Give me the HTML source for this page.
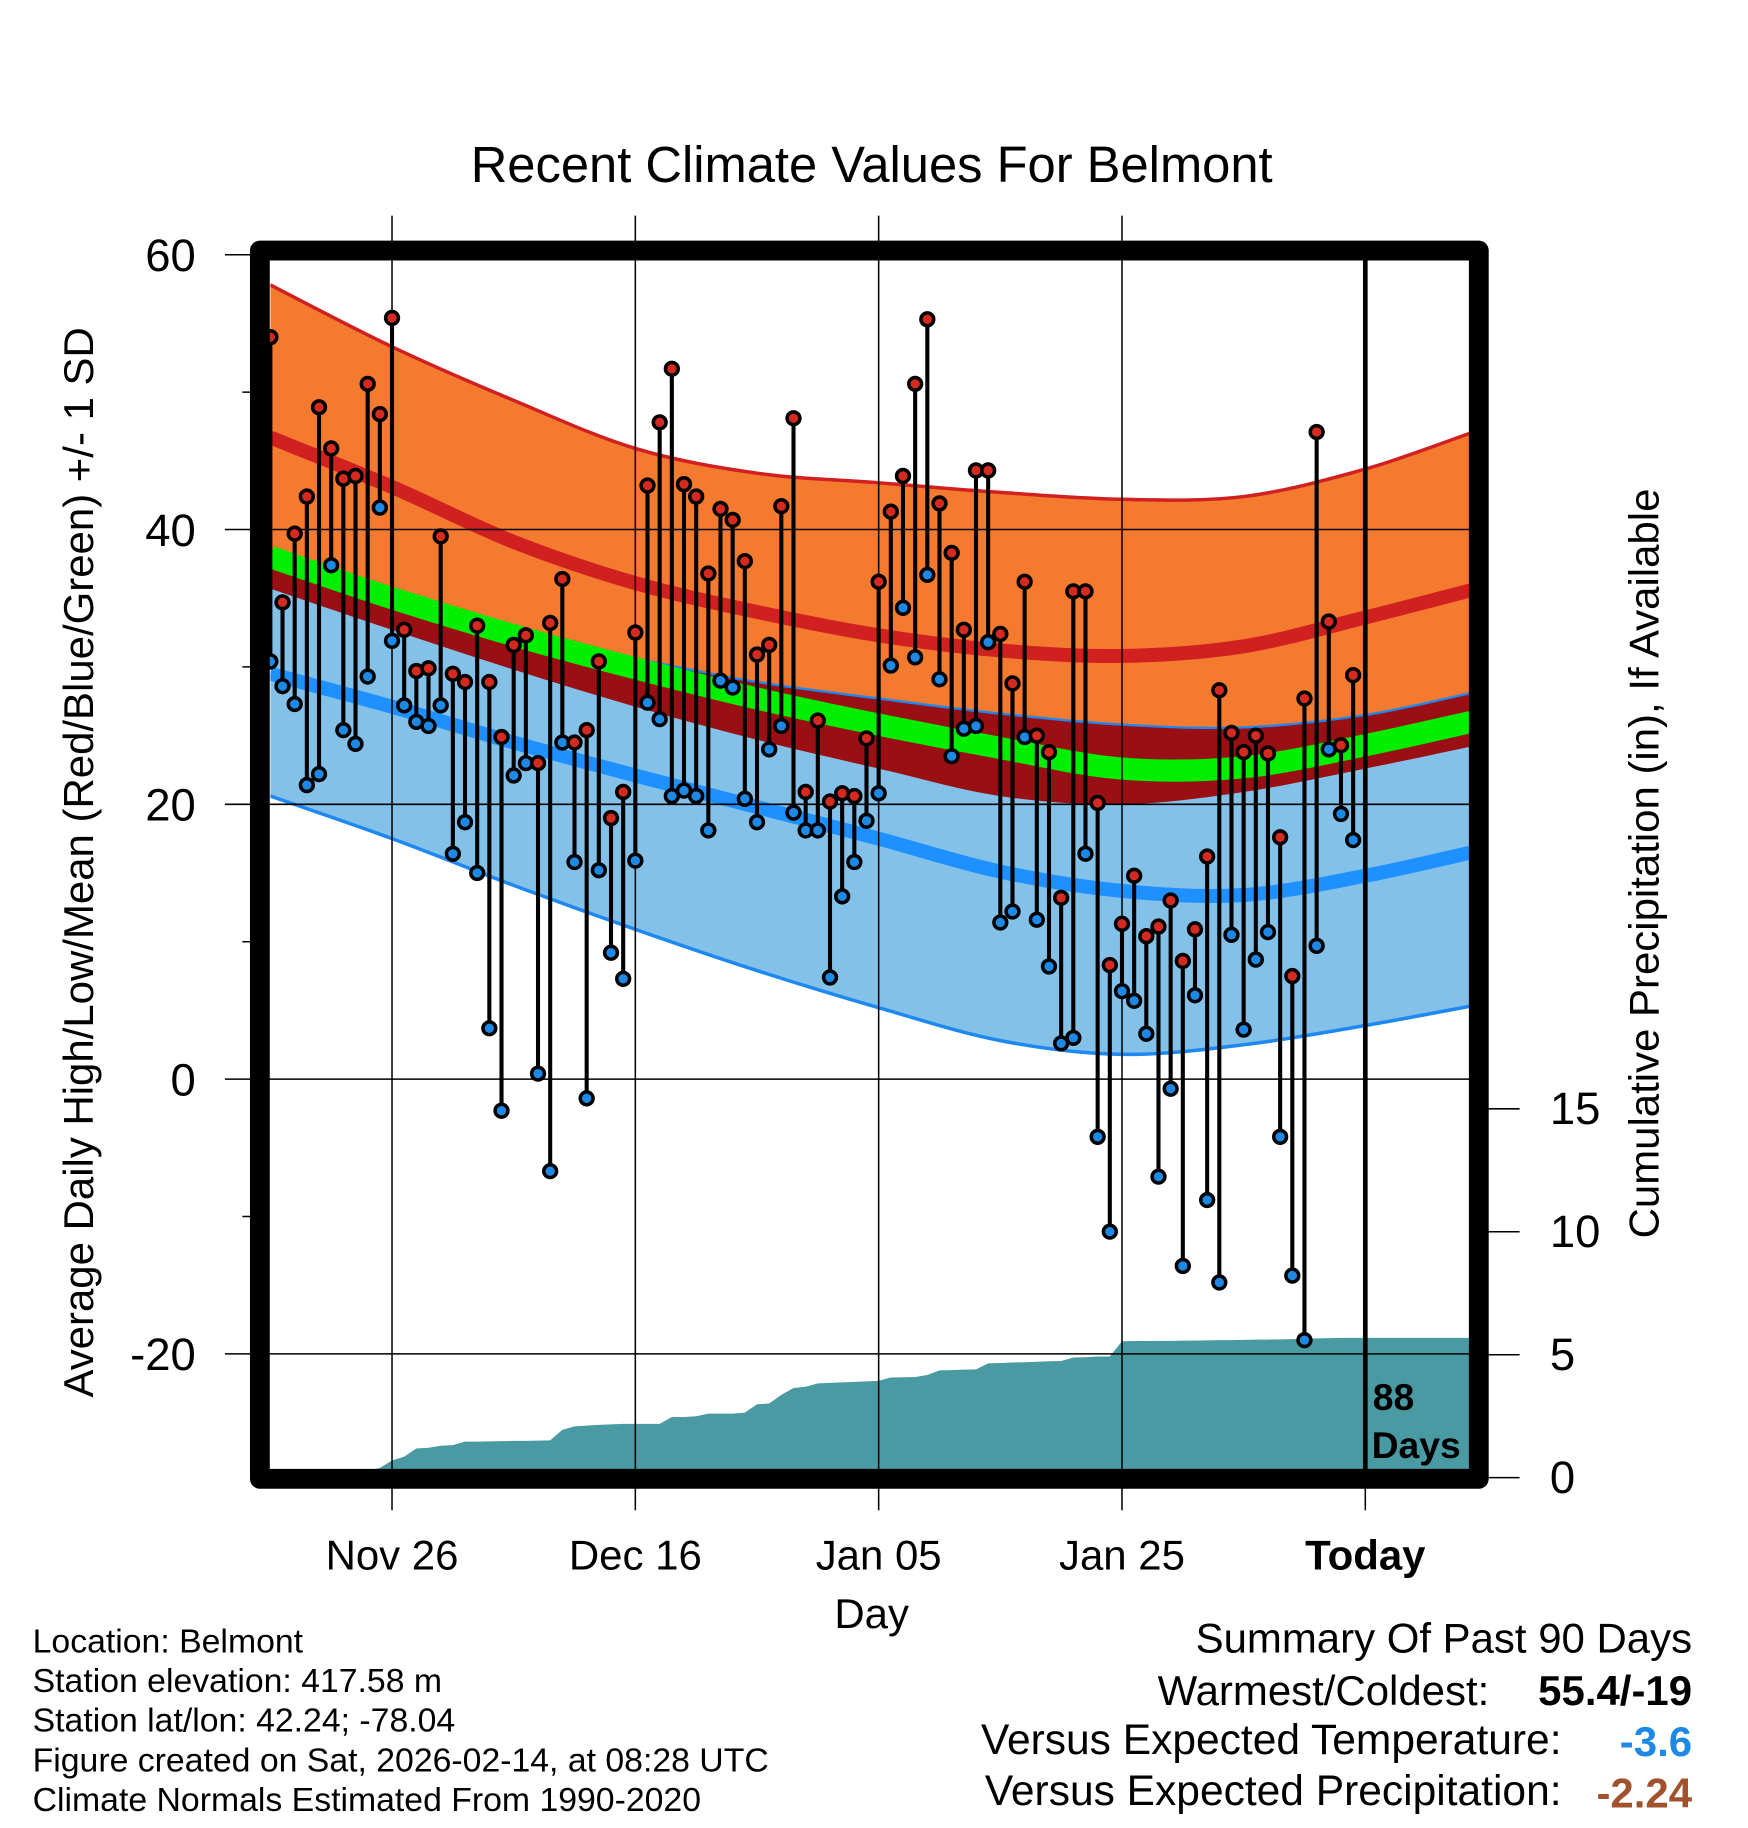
<!DOCTYPE html>
<html><head><meta charset="utf-8"><style>
html,body{margin:0;padding:0;background:#fff}
svg{display:block}
text{font-family:"Liberation Sans",sans-serif}
</style></head><body>
<svg id="chart" width="1748" height="1828" viewBox="0 0 1500 1568.65" xmlns="http://www.w3.org/2000/svg">
<rect width="1500" height="1569" fill="#fff"/>
<g id="bands"></g>
<g id="grid"></g>
<g id="marks"></g>
<g id="frame"></g>
<g id="labels"></g>
</svg>
<script>
// ---- data ----
var normDays = [0,10,20,30,40,50,60,70,80,90,99.2];
var highUpper = [57.8,53.3,49.4,45.9,44.1,43.4,42.7,42.2,42.4,44.4,47.2];
var normHigh  = [46.7,43.1,39.1,36.1,34.0,32.3,31.2,30.8,31.5,33.6,35.7];
var highLower = [35.7,32.7,29.8,27.1,24.7,22.6,20.6,20.0,20.9,22.6,24.3];
var lowUpper  = [37.8,34.3,32.3,30.6,28.9,27.7,26.6,25.8,25.6,26.5,28.2];
var normMean  = [38.0,35.0,32.3,29.9,27.7,25.8,24.1,22.6,22.7,24.3,26.1];
var normLow   = [29.5,27.1,24.5,22.1,19.8,17.5,15.1,13.7,13.4,14.8,16.6];
var lowLower  = [20.6,17.5,14.1,10.9,7.9,5.2,2.8,1.8,2.5,3.9,5.4];
var highs = [54.0,34.7,39.7,42.4,48.9,45.9,43.7,43.9,50.6,48.4,55.4,32.7,29.7,29.9,39.5,29.5,28.9,33.0,28.9,24.9,31.6,32.3,23.0,33.2,36.4,24.5,25.4,30.4,19.0,20.9,32.5,43.2,47.8,51.7,43.3,42.4,36.8,41.5,40.7,37.7,30.9,31.6,41.7,48.1,20.9,26.1,20.2,20.8,20.6,24.8,36.2,41.3,43.9,50.6,55.3,41.9,38.3,32.7,44.3,44.3,32.4,28.8,36.2,25.0,23.8,13.2,35.5,35.5,20.1,8.3,11.3,14.8,10.4,11.1,13.0,8.6,10.9,16.2,28.3,25.2,23.8,25.0,23.7,17.6,7.5,27.7,47.1,33.3,24.3,29.4];
var lows = [30.4,28.6,27.3,21.4,22.2,37.4,25.4,24.4,29.3,41.6,31.9,27.2,26.0,25.7,27.2,16.4,18.7,15.0,3.7,-2.3,22.1,23.0,0.4,-6.7,24.5,15.8,-1.4,15.2,9.2,7.3,15.9,27.4,26.2,20.6,21.0,20.6,18.1,29.0,28.5,20.4,18.7,24.0,25.7,19.4,18.1,18.1,7.4,13.3,15.8,18.8,20.8,30.1,34.3,30.7,36.7,29.1,23.5,25.5,25.7,31.8,11.4,12.2,24.9,11.6,8.2,2.6,3.0,16.4,-4.2,-11.1,6.4,5.7,3.3,-7.1,-0.7,-13.6,6.1,-8.8,-14.8,10.5,3.6,8.7,10.7,-4.2,-14.3,-19.0,9.7,24.0,19.3,17.4];
var precipCum = [0,0,0,0,0,0,0,0,0,0.3,0.6,0.76,1.09,1.12,1.2,1.23,1.37,1.37,1.38,1.39,1.4,1.4,1.41,1.42,1.85,1.99,2.02,2.05,2.07,2.09,2.09,2.09,2.09,2.37,2.37,2.4,2.51,2.51,2.51,2.55,2.89,2.92,3.27,3.55,3.6,3.74,3.76,3.78,3.8,3.82,3.84,3.98,3.99,4.0,4.08,4.27,4.28,4.3,4.31,4.55,4.57,4.59,4.6,4.62,4.64,4.65,4.79,4.8,4.83,4.83,5.45,5.46,5.46,5.47,5.47,5.48,5.48,5.49,5.5,5.5,5.51,5.52,5.52,5.53,5.54,5.55,5.57,5.58,5.59,5.59];
var yTicks = [60,40,20,0,-20];
var yMinor = [50,30,10,-10];
var pTicks = [0,5,10,15];
var xTickDays = [10,30,50,70,90];
var xTickLabels = ["Nov 26","Dec 16","Jan 05","Jan 25","Today"];
var infoLines = ["Location: Belmont","Station elevation: 417.58 m","Station lat/lon: 42.24; -78.04","Figure created on Sat, 2026-02-14, at 08:28 UTC","Climate Normals Estimated From 1990-2020"];

// ---- axes ----
var X0=232, XD=10.44;
function xs(d){return X0+XD*d;}
function ys(v){return 926-11.79*v;}
function yp(p){return 1266-21.1*p;}
var NS="http://www.w3.org/2000/svg";
function mk(tag,parent,attrs){var e=document.createElementNS(NS,tag);for(var k in attrs)e.setAttribute(k,attrs[k]);parent.appendChild(e);return e;}
function pts(arr){return arr.map(function(v,i){return [xs(normDays[i]),ys(v)];});}
function smooth(p){var d="M"+p[0][0]+","+p[0][1];for(var i=0;i<p.length-1;i++){var p0=p[Math.max(i-1,0)],p1=p[i],p2=p[i+1],p3=p[Math.min(i+2,p.length-1)];
 d+=" C"+(p1[0]+(p2[0]-p0[0])/6)+","+(p1[1]+(p2[1]-p0[1])/6)+" "+(p2[0]-(p3[0]-p1[0])/6)+","+(p2[1]-(p3[1]-p1[1])/6)+" "+p2[0]+","+p2[1];}return d;}
function rev(p){return p.slice().reverse();}
function band(a,b){var pa=pts(a),pb=rev(pts(b));return smooth(pa)+" L"+pb[0][0]+","+pb[0][1]+smooth(pb).replace(/^M[^C]*/,"")+" Z";}

var bands=document.getElementById('bands');
var defs=mk('defs',bands,{});var cp=mk('clipPath',defs,{id:'pc'});mk('rect',cp,{x:232,y:218,width:1036,height:1044});
var bg=mk('g',bands,{'clip-path':'url(#pc)'});
var e;
e=mk('path',bg,{d:band(highUpper,highLower),fill:'#f47a30'});

e=mk('path',bg,{d:smooth(pts(highUpper)),fill:'none',stroke:'#d02020','stroke-width':3});

e=mk('path',bg,{d:band(lowUpper,lowLower),fill:'#83c1e8'});

e=mk('path',bg,{d:band(lowUpper,highLower),fill:'#9a0f14'});

e=mk('path',bg,{d:smooth(pts(lowUpper)),fill:'none',stroke:'#1e88f0','stroke-width':2});

e=mk('path',bg,{d:smooth(pts(lowLower)),fill:'none',stroke:'#1e88f0','stroke-width':3});

e=mk('path',bg,{d:smooth(pts(normMean)),fill:'none',stroke:'#00ee00','stroke-width':19});

e=mk('path',bg,{d:smooth(pts(normHigh)),fill:'none',stroke:'#d02020','stroke-width':12});

e=mk('path',bg,{d:smooth(pts(normLow)),fill:'none',stroke:'#1e90ff','stroke-width':12});

// precip area
var pd="M"+xs(0)+",1262";precipCum.forEach(function(v,i){pd+=" L"+xs(i)+","+Math.min(yp(v),1262);});
pd+=" L"+xs(89)+","+yp(precipCum[89])+" L1268,"+yp(precipCum[89])+" L1268,1262 Z";
e=mk('path',bg,{d:pd,fill:'#4a9aa3'});


// grid
var grid=document.getElementById('grid');
yTicks.forEach(function(v){
 e=mk('line',grid,{x1:193,x2:1268,y1:ys(v),y2:ys(v),stroke:'#000','stroke-width':1.3});
 
});
yMinor.forEach(function(v){
 e=mk('line',grid,{x1:208,x2:222,y1:ys(v),y2:ys(v),stroke:'#000','stroke-width':1.3});
 
});
xTickDays.forEach(function(d,i){
 e=mk('line',grid,{x1:xs(d),x2:xs(d),y1:i==4?1262:185,y2:1296,stroke:'#000','stroke-width':1.3});
 
});
pTicks.forEach(function(p){
 e=mk('line',grid,{x1:1276,x2:1304,y1:yp(p)+2,y2:yp(p)+2,stroke:'#000','stroke-width':1.3});
 
});

// marks
var marks=document.getElementById('marks');
e=mk('line',marks,{x1:xs(90),x2:xs(90),y1:210,y2:1270,stroke:'#000','stroke-width':4});

highs.forEach(function(h,i){
 var x=xs(i);
 e=mk('line',marks,{x1:x,x2:x,y1:ys(h),y2:ys(lows[i]),stroke:'#000','stroke-width':3.5});
 
});
highs.forEach(function(h,i){
 var x=xs(i);
 e=mk('circle',marks,{cx:x,cy:ys(lows[i]),r:5.5,fill:'#1e88e5',stroke:'#000','stroke-width':3});
 
 e=mk('circle',marks,{cx:x,cy:ys(h),r:5.5,fill:'#d42a20',stroke:'#000','stroke-width':3});
 
});

// frame
var fr=document.getElementById('frame');
e=mk('rect',fr,{x:223,y:215,width:1046,height:1054,fill:'none',stroke:'#000','stroke-width':17,'stroke-linejoin':'round'});


// labels
var lb=document.getElementById('labels');
function txt(s,x,y,size,attrs,name){var a={x:x,y:y,'font-size':size};for(var k in attrs)a[k]=attrs[k];var t=mk('text',lb,a);t.textContent=s;
 return t;}
txt("Recent Climate Values For Belmont",748,156,43.5,{'text-anchor':'middle'},'chart-title');
yTicks.forEach(function(v){txt(String(v),168,ys(v)+14,39,{'text-anchor':'end'},'y-tick-label');});
pTicks.forEach(function(p){txt(String(p),1330,yp(p)+15,39,{},'precip-tick-label');});
xTickDays.forEach(function(d,i){txt(xTickLabels[i],xs(d),1347,36,i==4?{'text-anchor':'middle','font-weight':'bold'}:{'text-anchor':'middle'},'x-tick-label');});
txt("Day",748,1397,36,{'text-anchor':'middle'},'x-axis-title');
txt("Average Daily High/Low/Mean (Red/Blue/Green) +/- 1 SD",0,0,36,{'text-anchor':'middle',transform:'translate(80,740) rotate(-90)'},'y-axis-title');
txt("Cumulative Precipitation (in), If Available",0,0,36,{'text-anchor':'middle',transform:'translate(1423,741) rotate(-90)'},'precip-axis-title');
txt("88",1178,1210,32,{'font-weight':'bold'},'days-count');
txt("Days",1177,1251,32,{'font-weight':'bold'},'days-label');
infoLines.forEach(function(s,i){txt(s,28,1418+34*i,29,{},'station-info-line');});
txt("Summary Of Past 90 Days",1452,1418,36,{'text-anchor':'end'},'summary-title');
txt("Warmest/Coldest:",1278,1463,36,{'text-anchor':'end'},'warmest-coldest-label');
txt("55.4/-19",1452,1463,36,{'text-anchor':'end','font-weight':'bold'},'warmest-coldest-value');
txt("Versus Expected Temperature:",1340,1505,36.5,{'text-anchor':'end'},'temp-anomaly-label');
txt("-3.6",1452,1507,36,{'text-anchor':'end','font-weight':'bold',fill:'#1e88e5'},'temp-anomaly-value');
txt("Versus Expected Precipitation:",1340,1549,36.5,{'text-anchor':'end'},'precip-anomaly-label');
txt("-2.24",1452,1551,36,{'text-anchor':'end','font-weight':'bold',fill:'#a0522d'},'precip-anomaly-value');
</script>
</body></html>
